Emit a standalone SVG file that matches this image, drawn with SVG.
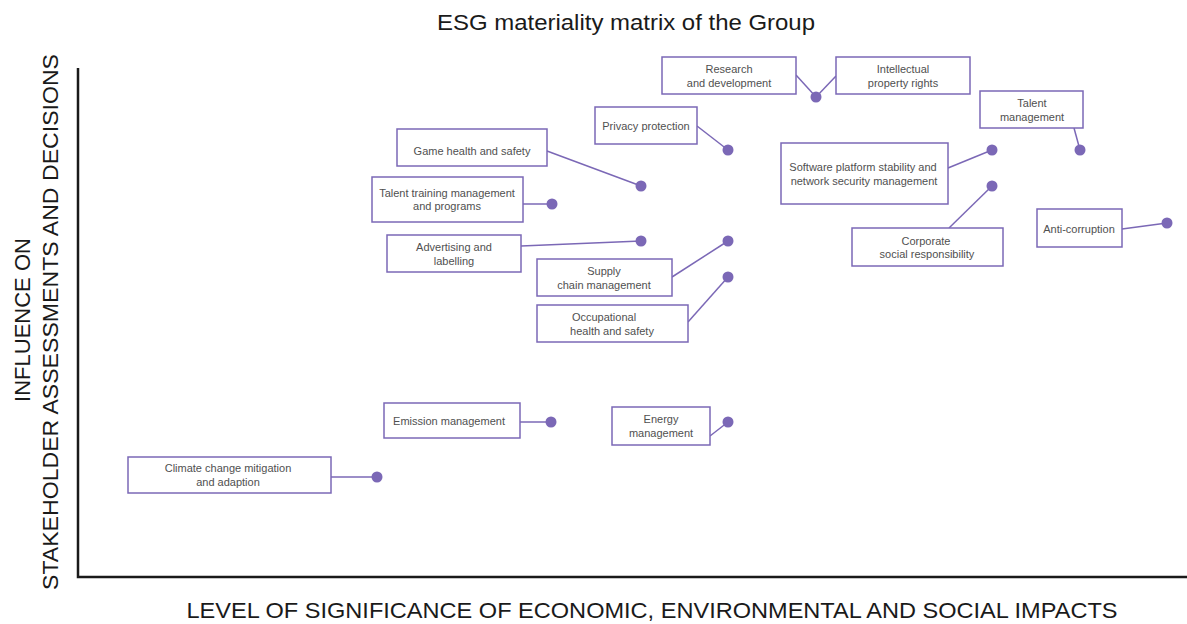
<svg xmlns="http://www.w3.org/2000/svg" width="1187" height="624" viewBox="0 0 1187 624">
<style>
.box{fill:#fff;stroke:#7b68b6;stroke-width:1.5}
.lbl{font-family:"Liberation Sans",Arial,sans-serif;font-size:11px;fill:#505050;text-anchor:middle}
.con{stroke:#7b68b6;stroke-width:1.5;fill:none}
.dot{fill:#7b68b6}
.axis{stroke:#1a1a1a;stroke-width:2.5;fill:none}
.ttl{font-family:"Liberation Sans",Arial,sans-serif;fill:#1a1a1a;text-anchor:middle}
</style>
<rect width="1187" height="624" fill="#fff"/>
<text class="ttl" x="626" y="30" font-size="22" textLength="378" lengthAdjust="spacingAndGlyphs">ESG materiality matrix of the Group</text>
<g id="axes">
<path class="axis" d="M78,68 V577 H1187"/>
<text class="ttl" x="652" y="618" font-size="22" textLength="931" lengthAdjust="spacingAndGlyphs">LEVEL OF SIGNIFICANCE OF ECONOMIC, ENVIRONMENTAL AND SOCIAL IMPACTS</text>
<text class="ttl" transform="translate(30,320) rotate(-90)" font-size="22">INFLUENCE ON</text>
<text class="ttl" transform="translate(58,322) rotate(-90)" font-size="22" textLength="536" lengthAdjust="spacingAndGlyphs">STAKEHOLDER ASSESSMENTS AND DECISIONS</text>
</g>
<g id="connectors">
<line class="con" x1="796" y1="75" x2="816" y2="97"/>
<line class="con" x1="836" y1="76" x2="816" y2="97"/>
<line class="con" x1="697" y1="126" x2="728" y2="150"/>
<line class="con" x1="547" y1="151" x2="641" y2="186"/>
<line class="con" x1="523" y1="204" x2="552" y2="204"/>
<line class="con" x1="521" y1="246" x2="641" y2="241"/>
<line class="con" x1="672" y1="277" x2="728" y2="241"/>
<line class="con" x1="688" y1="322" x2="728" y2="277"/>
<line class="con" x1="1074" y1="128" x2="1080" y2="150"/>
<line class="con" x1="948" y1="168" x2="992" y2="150"/>
<line class="con" x1="949" y1="228" x2="992" y2="186"/>
<line class="con" x1="1122" y1="229" x2="1167" y2="223"/>
<line class="con" x1="520" y1="422" x2="551" y2="422"/>
<line class="con" x1="710" y1="436" x2="728" y2="422"/>
<line class="con" x1="331" y1="477" x2="377" y2="477"/>
</g>
<g id="n-rd"><rect class="box" x="662" y="57" width="134" height="37"/><text class="lbl" x="729" y="73">Research</text><text class="lbl" x="729" y="87">and development</text><circle class="dot" cx="816" cy="97" r="5.5"/></g>
<g id="n-ipr"><rect class="box" x="836" y="57" width="134" height="37"/><text class="lbl" x="903" y="73">Intellectual</text><text class="lbl" x="903" y="87">property rights</text></g>
<g id="n-privacy"><rect class="box" x="595" y="107" width="102" height="37"/><text class="lbl" x="646" y="130">Privacy protection</text><circle class="dot" cx="728" cy="150" r="5.5"/></g>
<g id="n-game"><rect class="box" x="397" y="129" width="150" height="37"/><text class="lbl" x="472" y="155">Game health and safety</text><circle class="dot" cx="641" cy="186" r="5.5"/></g>
<g id="n-training"><rect class="box" x="372" y="177" width="151" height="45"/><text class="lbl" x="447" y="197">Talent training management</text><text class="lbl" x="447" y="210">and programs</text><circle class="dot" cx="552" cy="204" r="5.5"/></g>
<g id="n-adv"><rect class="box" x="387" y="235" width="134" height="37"/><text class="lbl" x="454" y="251">Advertising and</text><text class="lbl" x="454" y="265">labelling</text><circle class="dot" cx="641" cy="241" r="5.5"/></g>
<g id="n-supply"><rect class="box" x="537" y="259" width="135" height="37"/><text class="lbl" x="604" y="275">Supply</text><text class="lbl" x="604" y="289">chain management</text><circle class="dot" cx="728" cy="241" r="5.5"/></g>
<g id="n-occ"><rect class="box" x="537" y="305" width="151" height="37"/><text class="lbl" x="604" y="321">Occupational</text><text class="lbl" x="612" y="335">health and safety</text><circle class="dot" cx="728" cy="277" r="5.5"/></g>
<g id="n-talent"><rect class="box" x="980" y="91" width="103" height="37"/><text class="lbl" x="1032" y="107">Talent</text><text class="lbl" x="1032" y="121">management</text><circle class="dot" cx="1080" cy="150" r="5.5"/></g>
<g id="n-software"><rect class="box" x="781" y="143" width="167" height="61"/><text class="lbl" x="863" y="171">Software platform stability and</text><text class="lbl" x="864" y="185">network security management</text><circle class="dot" cx="992" cy="150" r="5.5"/></g>
<g id="n-csr"><rect class="box" x="852" y="228" width="151" height="38"/><text class="lbl" x="926" y="245">Corporate</text><text class="lbl" x="927" y="258">social responsibility</text><circle class="dot" cx="992" cy="186" r="5.5"/></g>
<g id="n-anti"><rect class="box" x="1037" y="209" width="85" height="38"/><text class="lbl" x="1079" y="233">Anti-corruption</text><circle class="dot" cx="1167" cy="223" r="5.5"/></g>
<g id="n-emission"><rect class="box" x="384" y="403" width="136" height="35"/><text class="lbl" x="449" y="425">Emission management</text><circle class="dot" cx="551" cy="422" r="5.5"/></g>
<g id="n-energy"><rect class="box" x="612" y="407" width="98" height="38"/><text class="lbl" x="661" y="423">Energy</text><text class="lbl" x="661" y="437">management</text><circle class="dot" cx="728" cy="422" r="5.5"/></g>
<g id="n-climate"><rect class="box" x="128" y="457" width="203" height="36"/><text class="lbl" x="228" y="472">Climate change mitigation</text><text class="lbl" x="228" y="486">and adaption</text><circle class="dot" cx="377" cy="477" r="5.5"/></g>
</svg>
